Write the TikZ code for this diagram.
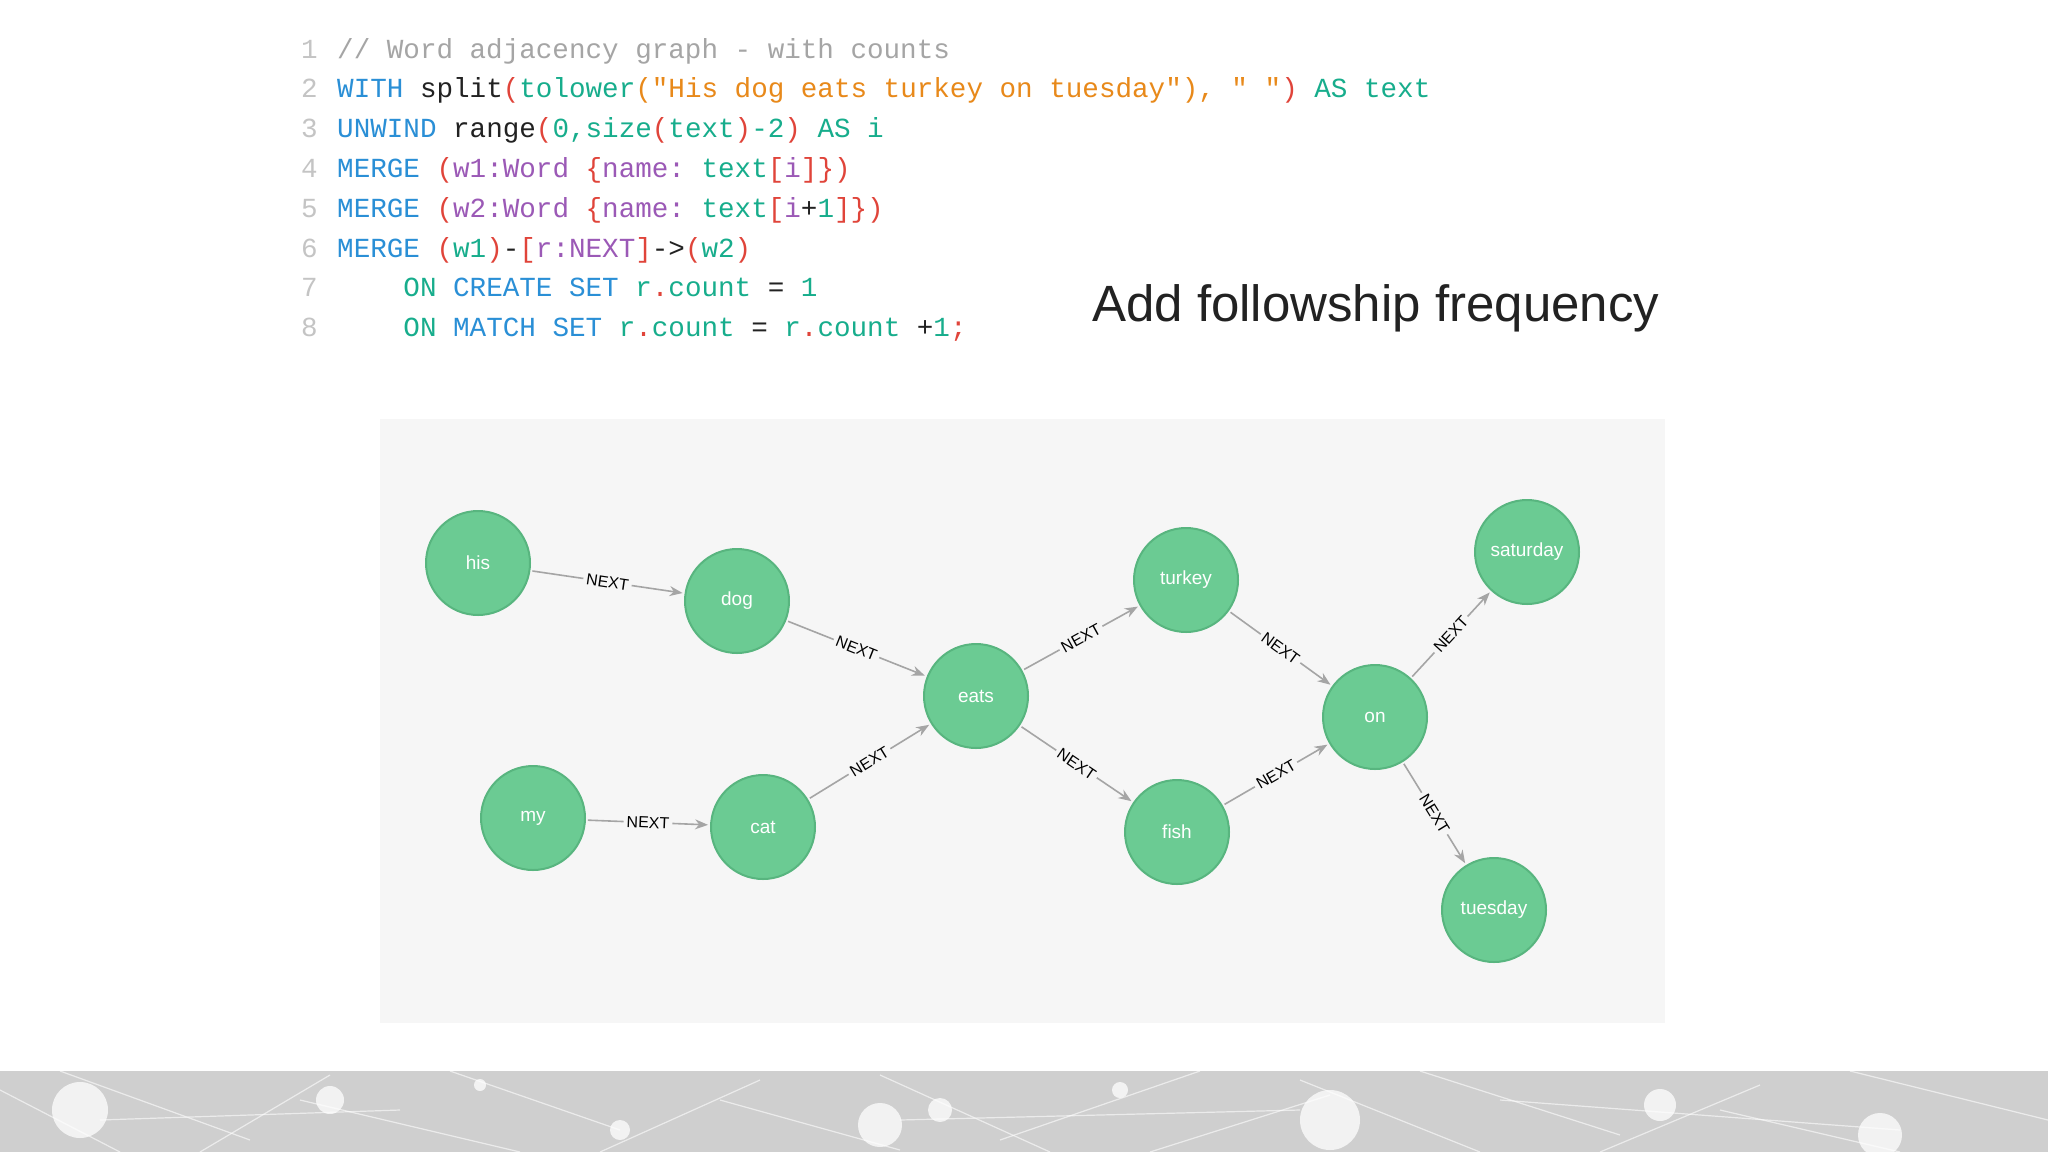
\documentclass[tikz,border=0pt]{standalone}
\usepackage{fontspec}
\setmainfont{Liberation Sans}
\setmonofont{Liberation Mono}
\usetikzlibrary{arrows.meta}
\definecolor{kb}{HTML}{2A8FD6}
\definecolor{kt}{HTML}{17AD8C}
\definecolor{ko}{HTML}{E8891A}
\definecolor{kr}{HTML}{E0443A}
\definecolor{kp}{HTML}{9B59B6}
\definecolor{kk}{HTML}{222222}
\definecolor{kn}{HTML}{C4C4C4}
\definecolor{kc}{HTML}{A5A5A5}
\definecolor{nf}{HTML}{6BCB93}
\definecolor{nd}{HTML}{58B57F}
\definecolor{pan}{HTML}{F6F6F6}
\definecolor{band}{HTML}{CFCFCF}
\newcommand{\cB}[1]{\textcolor{kb}{#1}}
\newcommand{\cT}[1]{\textcolor{kt}{#1}}
\newcommand{\cO}[1]{\textcolor{ko}{#1}}
\newcommand{\cR}[1]{\textcolor{kr}{#1}}
\newcommand{\cP}[1]{\textcolor{kp}{#1}}
\newcommand{\cK}[1]{\textcolor{kk}{#1}}
\begin{document}
\begin{tikzpicture}[x=1pt,y=-1pt,
  code/.style={anchor=base west,inner sep=0,font=\ttfamily\fontsize{27.6}{30}\selectfont},
  lnum/.style={anchor=base west,inner sep=0,text=kn,font=\ttfamily\fontsize{27.6}{30}\selectfont},
  w/.style={circle,minimum size=104pt,fill=nf,draw=nd,line width=2pt,text=white,font=\fontsize{19}{22}\selectfont},
  e/.style={draw=kc,line width=1.6pt,-{Stealth[length=13pt,width=10pt]},shorten >=2pt,shorten <=2pt},
  lab/.style={sloped,fill=pan,inner sep=3pt,text=black,font=\fontsize{16}{18}\selectfont}]
\useasboundingbox (0,0) rectangle (2048,1152);
\fill[white] (0,0) rectangle (2048,1152);
% code
\foreach \n [count=\i] in {1,...,8} {\node[lnum] (ln\i) at (301,{58+(\i-1)*39.8}) {\n};}
\node[code] (c1) at (337,58) {\textcolor{kc}{// Word adjacency graph - with counts}};
\node[code] (c2) at (337,97.8) {\cB{WITH} \cK{split}\cR{(}\cT{tolower}\cO{("His dog eats turkey on tuesday"), " "}\cR{)} \cT{AS text}};
\node[code] (c3) at (337,137.6) {\cB{UNWIND} \cK{range}\cR{(}\cT{0,size}\cR{(}\cT{text}\cR{)}\cT{-2}\cR{)} \cT{AS i}};
\node[code] (c4) at (337,177.4) {\cB{MERGE} \cR{(}\cP{w1:Word} \cR{\{}\cP{name:} \cT{text}\cR{[}\cP{i}\cR{]\})}};
\node[code] (c5) at (337,217.2) {\cB{MERGE} \cR{(}\cP{w2:Word} \cR{\{}\cP{name:} \cT{text}\cR{[}\cP{i}\cK{+}\cT{1}\cR{]\})}};
\node[code] (c6) at (337,257) {\cB{MERGE} \cR{(}\cT{w1}\cR{)}\cK{-}\cR{[}\cP{r:NEXT}\cR{]}\cK{->}\cR{(}\cT{w2}\cR{)}};
\node[code] (c7) at (337,296.8) {\phantom{xxx} \cT{ON} \cB{CREATE SET} \cT{r}\cR{.}\cT{count} \cK{=} \cT{1}};
\node[code] (c8) at (337,336.6) {\phantom{xxx} \cT{ON} \cB{MATCH SET} \cT{r}\cR{.}\cT{count} \cK{=} \cT{r}\cR{.}\cT{count} \cK{+}\cT{1}\cR{;}};
\node[anchor=base west,inner sep=0,text=kk,font=\fontsize{51}{54}\selectfont] (title) at (1092,321) {Add followship frequency};
% panel
\fill[pan] (380,419) rectangle (1665,1023);
% band
\fill[band] (0,1071) rectangle (2048,1152);
\begin{scope}
\clip (0,1071) rectangle (2048,1152);
\foreach \a/\b/\c/\d in {0/1090/120/1152, 60/1071/250/1140, 200/1152/330/1075, 300/1100/520/1152, 450/1071/620/1130, 600/1152/760/1080, 720/1100/900/1150, 880/1075/1050/1152, 1000/1140/1200/1071, 1150/1152/1330/1095, 1300/1080/1480/1152, 1420/1071/1620/1135, 1600/1152/1760/1085, 1720/1110/1900/1152, 1850/1071/2048/1120, 100/1120/400/1110, 900/1120/1300/1110, 1500/1100/1900/1130}
  \draw[white,opacity=0.6,line width=1.2pt] (\a,\b) -- (\c,\d);
\foreach \x/\y/\r in {80/1110/28, 330/1100/14, 620/1130/10, 880/1125/22, 940/1110/12, 1330/1120/30, 1660/1105/16, 1880/1135/22, 1120/1090/8, 480/1085/6}
  \fill[white,opacity=0.75] (\x,\y) circle (\r);
\end{scope}
% nodes
\node[w] (his) at (478,563) {his};
\node[w] (dog) at (737,601) {dog};
\node[w] (eats) at (976,696) {eats};
\node[w] (turkey) at (1186,580) {turkey};
\node[w] (fish) at (1177,832) {fish};
\node[w] (on) at (1375,717) {on};
\node[w] (saturday) at (1527,552) {saturday};
\node[w] (tuesday) at (1494,910) {tuesday};
\node[w] (my) at (533,818) {my};
\node[w] (cat) at (763,827) {cat};
% edges
\foreach \s/\t in {his/dog,dog/eats,my/cat,cat/eats,eats/turkey,eats/fish,turkey/on,fish/on,on/saturday,on/tuesday}
  \draw[e] (\s) -- node[lab] {NEXT} (\t);
\end{tikzpicture}
\end{document}
